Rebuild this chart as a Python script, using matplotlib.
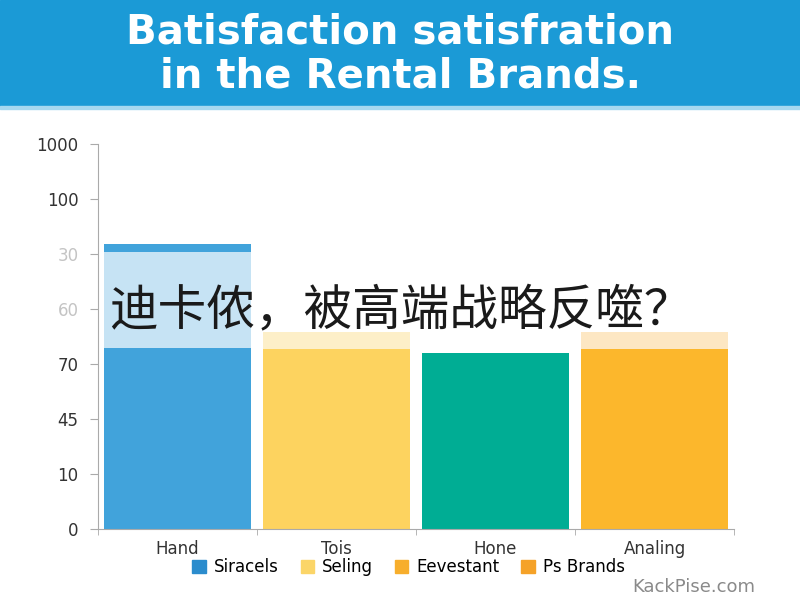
import numpy as np
import matplotlib.pyplot as plt
from matplotlib.patches import Patch, Rectangle

# categories and values (in tick-step units; the y labels are odd, evenly spaced)
categories = ["Hand", "Tois", "Hone", "Analing"]
base_vals = [3.29, 3.27, 3.20, 3.27]
light_vals = [1.75, 0.31, 0.0, 0.31]
cap_vals = [0.14, 0.0, 0.0, 0.0]
ytick_labels = ["0", "10", "45", "70", "60", "30", "100", "1000"]
legend_labels = ["Siracels", "Seling", "Eevestant", "Ps Brands"]

base_colors = ["#41a3db", "#fdd35f", "#00ad94", "#fcb72c"]
light_colors = ["#c6e3f4", "#fdefc8", "#ffffff", "#fde7c3"]
legend_colors = ["#2b8ccd", "#fbd568", "#f7ae2c", "#f5a228"]

fig = plt.figure(figsize=(8, 6), dpi=100)

# title banner
fig.patches.append(Rectangle((0, 0.823), 1, 0.177, transform=fig.transFigure,
                             color="#1b9ad6", zorder=0))
fig.patches.append(Rectangle((0, 0.818), 1, 0.006, transform=fig.transFigure,
                             color="#a6d8f0", zorder=0))
fig.text(0.5, 0.946, "Batisfaction satisfration", ha="center", va="center",
         color="white", fontsize=29, fontweight="bold", family="DejaVu Sans")
fig.text(0.5, 0.873, "in the Rental Brands.", ha="center", va="center",
         color="white", fontsize=29, fontweight="bold", family="DejaVu Sans")

ax = fig.add_axes([0.1225, 0.1183, 0.795, 0.6417])
x = np.arange(len(categories))
w = 0.925
ax.bar(x, base_vals, width=w, color=base_colors, zorder=2)
ax.bar(x, light_vals, width=w, bottom=base_vals, color=light_colors, zorder=2)
ax.bar(x, cap_vals, width=w, bottom=np.array(base_vals) + np.array(light_vals),
       color=base_colors, zorder=2)

ax.set_xlim(-0.5, 3.5)
ax.set_ylim(0, 7)
ax.set_yticks(range(len(ytick_labels)))
ax.set_yticklabels(ytick_labels, fontsize=12)
for lab, t in zip(ax.get_yticklabels(), ytick_labels):
    lab.set_color("#c4c4c4" if t in ("30", "60") else "#333333")
ax.set_xticks(x)
ax.set_xticklabels(categories, fontsize=12, color="#333333")
ax.set_xticks(np.arange(-0.5, 4, 1), minor=True)
ax.tick_params(axis="x", which="major", length=0, pad=8)
ax.tick_params(axis="x", which="minor", length=4, color="#aaaaaa")
ax.tick_params(axis="y", length=6, color="#aaaaaa", pad=8)
for s in ["top", "right"]:
    ax.spines[s].set_visible(False)
for s in ["left", "bottom"]:
    ax.spines[s].set_color("#aaaaaa")

handles = [Patch(color=c) for c in legend_colors]
fig.legend(handles, legend_labels, loc="center", bbox_to_anchor=(0.511, 0.055),
           ncol=4, frameon=False, fontsize=12, handlelength=0.8, handleheight=0.8,
           handletextpad=0.5, columnspacing=1.3)

fig.text(0.79, 0.022, "KackPise.com", ha="left", va="center", fontsize=13,
         color="#8a8a8a")

fig.text(0.137, 0.482, "迪卡侬，被高端战略反噬？", ha="left", va="center",
         fontsize=35, color="#1a1a1a", family=["Noto Sans CJK SC", "DejaVu Sans"])

fig.savefig("out.png", dpi=100)
